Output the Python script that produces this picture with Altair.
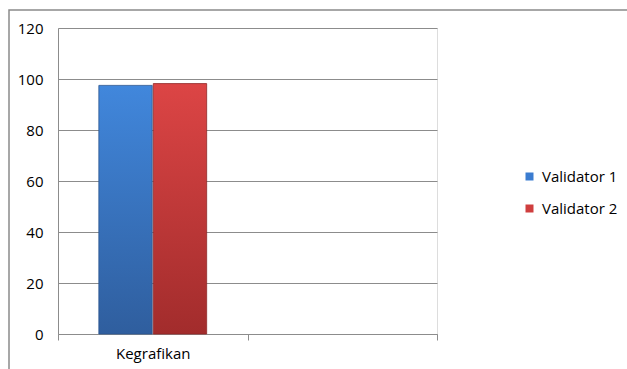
import altair as alt
import pandas as pd

categories = ["Kegrafikan"]
axis_slots = ["Kegrafikan", " "]
validators = ["Validator 1", "Validator 2"]
values_v1 = [97.5]
values_v2 = [98.2]
colors = ["#3B7CD0", "#CF3E3E"]

rows = []
for i, c in enumerate(categories):
    rows.append({"category": c, "validator": validators[0], "value": values_v1[i]})
    rows.append({"category": c, "validator": validators[1], "value": values_v2[i]})
df = pd.DataFrame(rows)

FONT = "Open Sans"
FS = 15
GRID = "#8c8c8c"

base = alt.Chart(df).encode(
    x=alt.X(
        "category:N",
        scale=alt.Scale(domain=axis_slots, paddingInner=0, paddingOuter=0),
        axis=alt.Axis(
            title=None, labelAngle=0, tickBand="extent", tickSize=6,
            tickColor=GRID, domainColor=GRID, labelFont=FONT, labelFontSize=FS,
            labelColor="#000000", labelPadding=6, grid=False,
        ),
    ),
    xOffset=alt.XOffset(
        "validator:N",
        scale=alt.Scale(domain=validators, paddingOuter=0.75, paddingInner=0.02),
    ),
    y=alt.Y(
        "value:Q",
        scale=alt.Scale(domain=[0, 120]),
        axis=alt.Axis(
            title=None, values=[0, 20, 40, 60, 80, 100, 120], tickSize=0,
            labelPadding=15, labelFont=FONT, labelFontSize=FS, labelColor="#000000",
            domainColor=GRID, gridColor=GRID, grid=True,
        ),
    ),
)

legend_layer = base.mark_bar(opacity=0).encode(
    color=alt.Color(
        "validator:N",
        scale=alt.Scale(domain=validators, range=colors),
        legend=alt.Legend(
            title=None, orient="none", legendX=464, legendY=141,
            symbolType="square", symbolSize=64, symbolOpacity=1,
            symbolStrokeWidth=0, labelFont=FONT, labelFontSize=FS,
            labelColor="#000000", rowPadding=16, labelOffset=5,
        ),
    )
)

def grad(top, bottom):
    return alt.LinearGradient(
        gradient="linear",
        stops=[alt.GradientStop(color=top, offset=0), alt.GradientStop(color=bottom, offset=1)],
        x1=0, x2=0, y1=0, y2=1,
    )

blue = base.transform_filter(alt.datum.validator == validators[0]).mark_bar(
    color=grad("#4187DC", "#2F5E9E"), stroke="#2b568f", strokeWidth=0.8
)
red = base.transform_filter(alt.datum.validator == validators[1]).mark_bar(
    color=grad("#DC4545", "#A22C2C"), stroke="#8f2727", strokeWidth=0.8
)

border = alt.Chart(pd.DataFrame({"a": [0]})).mark_rect(
    fillOpacity=0, stroke="#8a8a8a", strokeWidth=1.5
).encode(x=alt.value(-49), x2=alt.value(700), y=alt.value(-18), y2=alt.value(500))

chart = alt.layer(border, legend_layer, blue, red).properties(
    width=379, height=306,
    autosize=alt.AutoSizeParams(type="none"),
    padding={"left": 58, "top": 28, "right": 190, "bottom": 35},
).configure_view(stroke=None).configure(background="#ffffff")

chart.save("out.html", embed_options={"renderer": "svg", "actions": False})
